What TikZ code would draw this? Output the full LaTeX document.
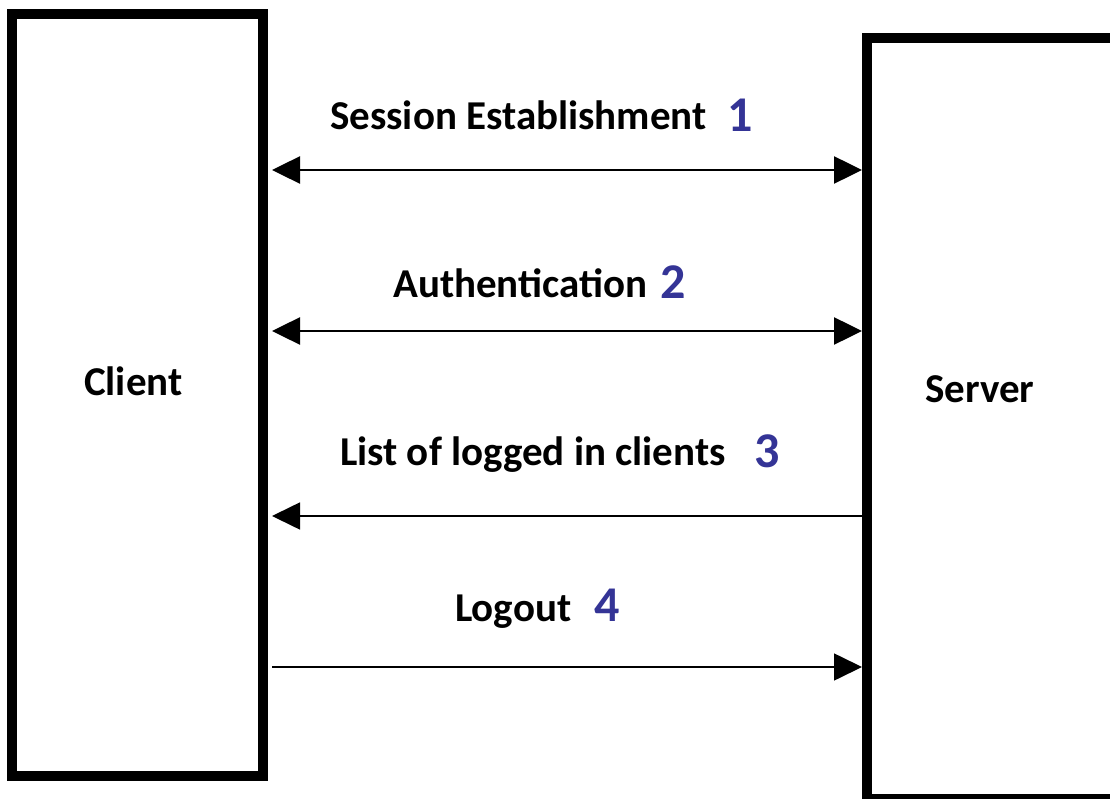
\documentclass[tikz,border=0pt]{standalone}
\usepackage{fontspec}
\setmainfont{Carlito}
\usetikzlibrary{arrows.meta}
\definecolor{numblue}{RGB}{52,52,150}
\begin{document}
\begin{tikzpicture}[x=1pt,y=-1pt,
  box/.style={draw=black,line width=10pt,fill=white,inner sep=0pt},
  lbl/.style={anchor=base west,inner sep=0pt,font=\fontsize{41}{49}\selectfont\bfseries},
  num/.style={anchor=base west,inner sep=0pt,text=numblue,font=\fontsize{50}{60}\selectfont\bfseries},
  thick arrow/.style={line width=2.5pt},
  thin arrow/.style={line width=1.6pt}]
\useasboundingbox (0,0) rectangle (1110,799);
\clip (0,0) rectangle (1110,799);
\fill[white] (0,0) rectangle (1110,799);
% boxes
\node[box,minimum width=251pt,minimum height=761pt] (client) at (137.5,395) {};
\node[box,minimum width=263.5pt,minimum height=761pt] (server) at (998.25,418.5) {};
\node[lbl] (clientlbl) at (84,395) {Client};
\node[lbl] (serverlbl) at (925,402) {Server};
% connector end points
\coordinate (c1) at (272,170);
\coordinate (s1) at (862,170);
\coordinate (c2) at (272,331);
\coordinate (s2) at (862,331);
\coordinate (c3) at (272,516);
\coordinate (s3) at (862,516);
\coordinate (c4) at (272,667);
\coordinate (s4) at (862,667);
% connectors
\draw[thick arrow,{Triangle[length=28pt,width=27pt]}-{Triangle[length=28pt,width=27pt]}] (c1) -- (s1);
\draw[thick arrow,{Triangle[length=28pt,width=27pt]}-{Triangle[length=28pt,width=27pt]}] (c2) -- (s2);
\draw[thin arrow,-{Triangle[length=28pt,width=27pt]}] (s3) -- (c3);
\draw[thin arrow,-{Triangle[length=28pt,width=27pt]}] (c4) -- (s4);
% labels
\node[lbl] (l1) at (330,130) {Session Establishment};
\node[num] (n1) at (727,132) {1};
\node[lbl] (l2) at (393,298) {Authentication};
\node[num] (n2) at (660,299) {2};
\node[lbl] (l3) at (340,465) {List of logged in clients};
\node[num] (n3) at (754,467) {3};
\node[lbl] (l4) at (455,621) {Logout};
\node[num] (n4) at (594,621) {4};
\end{tikzpicture}
\end{document}
